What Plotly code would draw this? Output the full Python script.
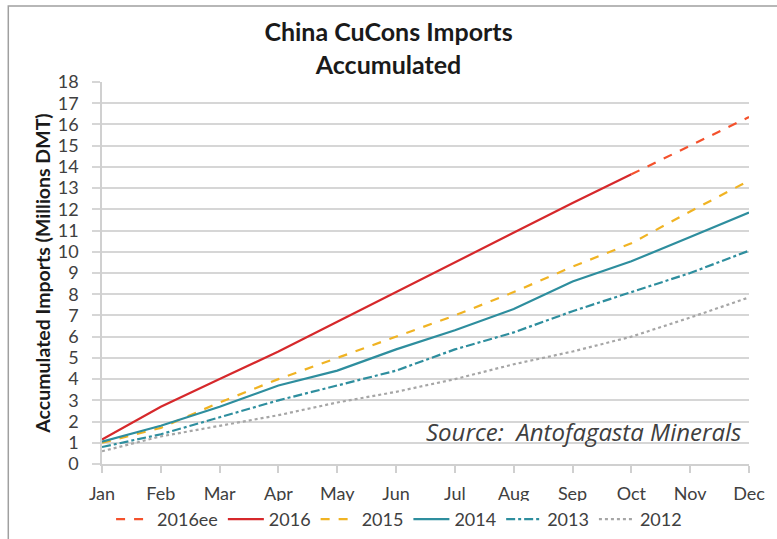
import plotly.graph_objects as go

months = ["Jan", "Feb", "Mar", "Apr", "May", "Jun", "Jul", "Aug", "Sep", "Oct", "Nov", "Dec"]
y2016ee = [None, None, None, None, None, None, None, None, None, 13.65, 15.0, 16.35]
y2016 = [1.15, 2.7, 4.0, 5.3, 6.7, 8.1, 9.5, 10.9, 12.3, 13.65, None, None]
y2015 = [1.0, 1.7, 2.9, 4.0, 5.0, 6.0, 7.0, 8.1, 9.3, 10.4, 11.9, 13.35]
y2014 = [1.05, 1.8, 2.7, 3.7, 4.4, 5.4, 6.3, 7.3, 8.6, 9.55, 10.7, 11.85]
y2013 = [0.8, 1.4, 2.2, 3.0, 3.7, 4.4, 5.4, 6.2, 7.2, 8.1, 9.0, 10.05]
y2012 = [0.6, 1.3, 1.8, 2.3, 2.9, 3.4, 4.0, 4.7, 5.3, 6.0, 6.9, 7.85]
y_ticks = list(range(0, 19))

series = [
    ("2016ee", y2016ee, "#F4512C", "dash"),
    ("2016", y2016, "#D6282B", "solid"),
    ("2015", y2015, "#F0B323", "dash"),
    ("2014", y2014, "#2E8E9E", "solid"),
    ("2013", y2013, "#2E8E9E", "dashdot"),
    ("2012", y2012, "#A6A6A6", "dot"),
]

fig = go.Figure()
for name, ys, color, dash in series:
    fig.add_trace(go.Scatter(x=months, y=ys, name=name, mode="lines",
                             line=dict(color=color, width=2.2, dash=dash),
                             connectgaps=False))

W, H = 777, 551
ml, mr, mt, mb = 102, 26, 82, 87
pw, ph = W - ml - mr, H - mt - mb

def px(x):
    return (x - ml) / pw

def py(y):
    return (H - mb - y) / ph

fig.update_layout(
    width=W, height=H,
    margin=dict(l=ml, r=mr, t=mt, b=mb),
    paper_bgcolor="white", plot_bgcolor="white",
    font=dict(family="Lato, Open Sans, sans-serif", color="#404040", size=18),
    title=dict(text="<b>China CuCons Imports<br>Accumulated</b>", x=0.5, xanchor="center",
               y=(H - 41) / H, yanchor="middle", font=dict(size=25, color="#1a1a1a")),
    showlegend=True,
    legend=dict(orientation="h", x=px(400), xanchor="center", y=py(501),
                yanchor="top", font=dict(size=18, color="#404040"), itemwidth=36,
                tracegroupgap=0),
    xaxis=dict(type="category", range=[0, 11], showgrid=False, showline=True,
               linecolor="#D0D0D0", linewidth=1.5, ticks="outside", tickcolor="#D0D0D0",
               ticklen=7, tickwidth=1.5, ticklabelstandoff=6,
               tickfont=dict(size=18, color="#404040")),
    yaxis=dict(range=[0, 18], tickvals=y_ticks, showgrid=True, gridcolor="#D6D6D6",
               gridwidth=2, showline=True, linecolor="#D0D0D0", linewidth=1.5, zeroline=False,
               ticks="outside", ticklen=8, tickcolor="#D6D6D6", tickwidth=2,
               ticklabelstandoff=10,
               tickfont=dict(size=18, color="#404040"),
               title=dict(text="<b>Accumulated Imports (Millions DMT)</b>",
                          font=dict(size=19.5, color="#1a1a1a"), standoff=2)),
    shapes=[dict(type="rect", xref="paper", yref="paper",
                 x0=px(8), x1=px(W + 10), y0=py(H + 10), y1=py(6),
                 line=dict(color="#A0A0A0", width=1.5), fillcolor="rgba(0,0,0,0)")],
    annotations=[dict(text="<i>Source:  Antofagasta Minerals</i>", xref="paper", yref="paper",
                      x=px(745), y=py(431), xanchor="right", yanchor="middle",
                      showarrow=False,
                      font=dict(family="Open Sans, sans-serif", size=24, color="#404040"))],
)

fig.write_html("out.html", config={"displayModeBar": False},
               post_script="document.body.style.margin='0';document.body.style.overflow='hidden';")
